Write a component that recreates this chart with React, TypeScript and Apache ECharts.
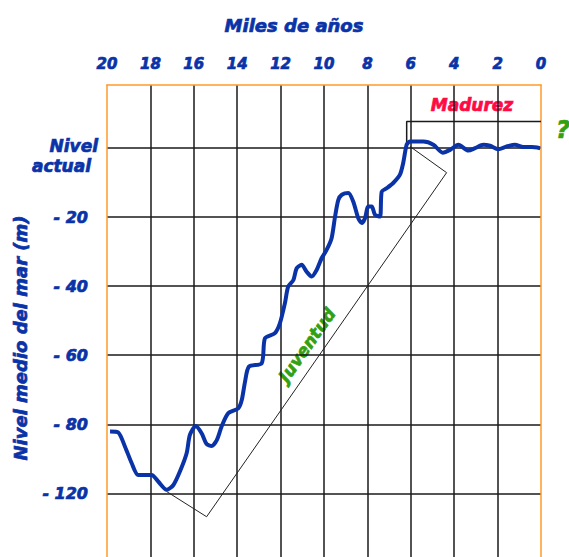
import React, { useEffect, useRef } from "react";
import * as echarts from "echarts";

// Blue sea-level curve (thousands of years before present, metres on the chart's scale)
const ageK = [19.86, 19.48, 19.17, 18.86, 18.56, 17.94, 17.64, 17.25, 16.94, 16.64, 16.33, 16.18, 15.91, 15.64, 15.41, 15.18, 14.94, 14.71, 14.41, 13.95, 13.79, 13.64, 13.46, 12.87, 12.72, 12.26, 12.03, 11.8, 11.65, 11.41, 11.26, 11.03, 10.8, 10.57, 10.34, 10.11, 9.88, 9.65, 9.49, 9.34, 9.18, 8.88, 8.65, 8.42, 8.26, 8.11, 7.96, 7.8, 7.65, 7.42, 7.34, 7.11, 6.81, 6.5, 6.35, 6.19, 6.04, 5.42, 4.96, 4.53, 4.19, 3.81, 3.35, 3.04, 2.66, 2.35, 1.97, 1.58, 1.2, 0.82, 0.43, 0.04];
const seaLevel = [-82.1, -82.4, -86.5, -91.3, -94.7, -94.7, -96.6, -99.0, -97.6, -93.7, -88.4, -83.1, -80.5, -82.6, -85.7, -86.3, -84.6, -80.5, -76.8, -75.4, -73.0, -67.7, -63.3, -62.3, -55.1, -53.6, -50.7, -44.9, -40.1, -38.2, -34.8, -33.8, -35.8, -37.2, -35.3, -31.9, -29.5, -26.1, -19.8, -15.0, -13.5, -13.0, -15.5, -20.3, -21.7, -20.3, -16.9, -16.9, -19.3, -19.8, -12.6, -11.6, -10.1, -7.7, -4.3, 1.0, 1.9, 1.9, 1.0, -1.3, -0.5, 1.0, -0.7, 0, 1.0, 0.7, -0.3, 0.5, 1.0, 0.3, 0.3, 0];

// "Juventud" outline (three sides of a slanted box)
const juvAge = [17.25, 15.41, 4.35, 6.04];
const juvLevel = [-99.5, -106.8, -7.1, 0.5];

// "Madurez" box
const madAge = [6.19, 6.19, 0];
const madLevel = [0, 7.7, 7.7];

// Tick labels
const xTicks = [0, 2, 4, 6, 8, 10, 12, 14, 16, 18, 20];
const yTickLabels = ["Nivel actual", "- 20", "- 40", "- 60", "- 80", "- 120", ""];

const BLUE = "#0a33a8";
const ORANGE = "#ff9a2a";
const GRIDC = "#1a1a1a";
const GREEN = "#33a010";
const FONT = "DejaVu Sans";

const heavy = (color: string, size: number) => ({
  color,
  fontFamily: FONT,
  fontWeight: "bold",
  fontStyle: "italic",
  fontSize: size,
  textBorderColor: color,
  textBorderWidth: 0.7,
});

const gText = (text: string, x: number, y: number, color: string, size: number, rotation = 0) => ({
  type: "text",
  x,
  y,
  rotation,
  style: {
    text,
    fill: color,
    stroke: color,
    lineWidth: 0.7,
    fontFamily: FONT,
    fontWeight: "bold",
    fontStyle: "italic",
    fontSize: size,
    align: "center",
    verticalAlign: "middle",
    textAlign: "center",
    textVerticalAlign: "middle",
  },
});

export default function App() {
  const ref = useRef<HTMLDivElement>(null);
  useEffect(() => {
    if (!ref.current) return;
    const chart = echarts.init(ref.current, null, { renderer: "svg" });
    const zip = (a: number[], b: number[]) => a.map((v, i) => [v, b[i]]);
    chart.setOption({
      animation: false,
      backgroundColor: "#ffffff",
      grid: { left: 107, top: 85, width: 434, height: 477.3, containLabel: false },
      xAxis: {
        type: "value",
        min: 0,
        max: 20,
        interval: 2,
        inverse: true,
        position: "top",
        axisLine: { show: true, onZero: false, lineStyle: { color: ORANGE, width: 1.5 } },
        axisTick: { show: false },
        axisLabel: {
          margin: 14,
          ...heavy(BLUE, 15),
          formatter: (v: number) => (xTicks.includes(v) ? String(v) : ""),
        },
        splitLine: { show: true, showMinLine: false, showMaxLine: false, lineStyle: { color: GRIDC, width: 1.5 } },
      },
      yAxis: [
        {
          type: "value",
          min: -120,
          max: 18.3,
          interval: 20,
          position: "left",
          axisLine: { show: true, onZero: false, lineStyle: { color: ORANGE, width: 1.5 } },
          axisTick: { show: false },
          axisLabel: {
            margin: 9,
            align: "right",
            formatter: (v: number) => {
              const idx = Math.round(-v / 20);
              const lab = yTickLabels[idx] ?? "";
              if (idx === 0) {
                const parts = lab.split(" ");
                return "{s| }\n{n|" + parts[0] + "}\n{a|" + parts[1] + "}";
              }
              return lab ? "{d|" + lab + "}" : "";
            },
            rich: {
              s: { fontSize: 1, lineHeight: 16 },
              n: { ...heavy(BLUE, 17), lineHeight: 20 },
              a: { ...heavy(BLUE, 17), lineHeight: 20, padding: [0, 7, 0, 0] },
              d: { ...heavy(BLUE, 16), padding: [0, 10, 0, 0] },
            },
          },
          splitLine: { show: true, showMinLine: false, showMaxLine: false, lineStyle: { color: GRIDC, width: 1.5 } },
        },
        {
          type: "value",
          min: -120,
          max: 18.3,
          interval: 20,
          position: "right",
          axisLine: { show: true, onZero: false, lineStyle: { color: ORANGE, width: 1.5 } },
          axisTick: { show: false },
          axisLabel: { show: false },
          splitLine: { show: false },
        },
      ],
      series: [
        {
          type: "line",
          data: zip(juvAge, juvLevel),
          showSymbol: false,
          lineStyle: { color: "#222", width: 1 },
          z: 3,
          silent: true,
        },
        {
          type: "line",
          data: zip(madAge, madLevel),
          showSymbol: false,
          lineStyle: { color: GRIDC, width: 1.5 },
          z: 3,
          silent: true,
        },
        {
          type: "line",
          data: zip(ageK, seaLevel),
          showSymbol: false,
          smooth: 0.25,
          lineStyle: { color: BLUE, width: 4 },
          z: 5,
          silent: true,
        },
      ],
      graphic: [
        gText("Miles de años", 294, 25, BLUE, 18),
        gText("Nivel medio del mar (m)", 20, 338, BLUE, 18, Math.PI / 2),
        gText("Madurez", 472, 105, "#ff0a45", 17),
        gText("Juventud", 307, 345, GREEN, 17, (55 * Math.PI) / 180),
        gText("?", 563, 130, GREEN, 24),
      ],
    });
    return () => chart.dispose();
  }, []);
  return (
    <div style={{ position: "absolute", left: 0, top: 0, width: 569, height: 557, overflow: "hidden", background: "#fff" }}>
      <div ref={ref} style={{ width: 569, height: 580 }} />
    </div>
  );
}
